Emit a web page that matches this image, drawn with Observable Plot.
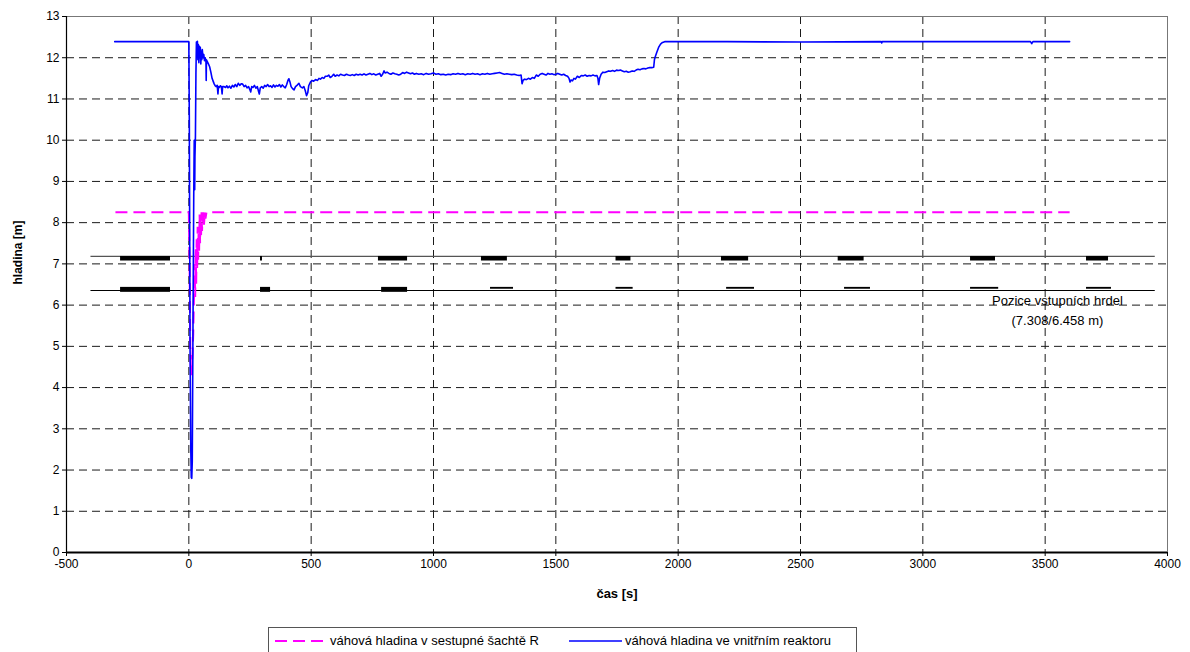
<!DOCTYPE html>
<html><head><meta charset="utf-8">
<script src="https://cdn.jsdelivr.net/npm/d3@7"></script>
<script src="https://cdn.jsdelivr.net/npm/@observablehq/plot@0.6"></script>
<style>
body{margin:0;background:#fff;font-family:"Liberation Sans",Arial,sans-serif;}
#wrap{position:relative;width:1190px;height:652px;overflow:hidden;background:#fff;}
#chart svg{display:block;}
#legend{position:absolute;left:268px;top:627px;width:589px;height:27px;border:1px solid #555;box-sizing:border-box;font-size:13px;color:#000;}
.item{position:absolute;top:0;height:25px;display:flex;align-items:center;white-space:nowrap;}
</style></head><body><div id="wrap"><div id="chart"></div><div id="legend"></div></div>
<script>
// ---- data ----
const seriesNames = ["váhová hladina v sestupné šachtě R", "váhová hladina ve vnitřním reaktoru"];
const xTicks = [-500, 0, 500, 1000, 1500, 2000, 2500, 3000, 3500, 4000];
const yTicks = [0, 1, 2, 3, 4, 5, 6, 7, 8, 9, 10, 11, 12, 13];

// downcomer (shaft R) level
const timeShaft = [-300, 0, 3, 6, 9, 12, 15, 18, 21, 24, 26, 28, 30, 32, 34, 36, 38, 40, 42, 44, 46, 48, 50, 52, 54, 56, 58, 60, 62, 65, 68, 72, 3600];
const levelShaft = [8.25, 8.25, 7.0, 5.0, 4.3, 4.5, 4.8, 5.3, 6.2, 7.0, 6.2, 7.4, 6.5, 7.6, 6.9, 7.9, 7.1, 7.8, 7.3, 8.2, 7.5, 8.15, 7.7, 8.25, 7.8, 8.25, 8.0, 8.25, 7.95, 8.25, 8.1, 8.25, 8.25];

// inner reactor level
const timeReactor = [-303, 0, 2, 5, 8, 10, 12, 14, 17, 20, 22, 23, 24, 25, 27, 29, 31, 33, 35, 37, 39, 41, 43, 45, 47, 49, 51, 53, 55, 58, 61, 64, 67, 70, 71, 72, 76, 80, 85, 90, 95, 100, 104, 108, 112, 116, 119, 121, 125, 129, 133, 136, 138, 143,
 150, 155, 160, 166, 172, 178, 184, 190, 196, 202, 208, 214, 220, 226, 232, 238, 244, 250, 253, 257, 262, 268, 274, 280, 285, 288, 292, 298, 304, 310, 316, 322, 328, 334, 340, 346, 352, 358, 364, 370, 376, 382, 388, 394, 400, 405, 409, 413, 418, 424, 430, 436, 442, 450, 456, 464, 470, 476, 481, 486, 490, 497,
 503, 510, 518, 526, 532, 538, 545, 552, 558, 565, 572, 578, 585, 592, 598, 606, 613, 620, 628, 636, 644, 652, 660, 668, 676, 684, 692, 700, 708, 716, 724, 732, 740, 748, 756, 764, 772, 780, 786, 792, 798, 802, 810, 818, 826, 834, 842, 850, 858, 866, 874, 882, 890, 898, 906, 914, 922, 930, 940, 950, 960, 970, 980, 990,
 1000, 1010, 1020, 1030, 1040, 1050, 1060, 1070, 1080, 1090, 1100, 1110, 1120, 1130, 1140, 1150, 1160, 1170, 1180, 1190, 1200, 1210, 1220, 1230, 1240, 1250, 1260, 1270, 1280, 1290, 1300, 1310, 1320, 1330, 1340, 1350, 1358, 1362, 1366, 1372, 1380, 1388, 1396, 1404, 1412, 1420, 1428, 1436, 1444, 1452, 1460, 1468, 1476, 1484, 1492,
 1500, 1508, 1516, 1524, 1532, 1540, 1548, 1554, 1558, 1562, 1568, 1574, 1580, 1588, 1596, 1604, 1612, 1620, 1628, 1636, 1644, 1652, 1660, 1668, 1672, 1675, 1679, 1685, 1692, 1700, 1708, 1716, 1724, 1732, 1740, 1748, 1756, 1764, 1772, 1780, 1788, 1796, 1804, 1812, 1820, 1828, 1836, 1844, 1852, 1860, 1868, 1876, 1884, 1892, 1900,
 1903, 1906, 1912, 1920, 1928, 1936, 1945, 2200, 2500, 2830, 2832, 2834, 3100, 3440, 3445, 3450, 3600];
const levelReactor = [12.39, 12.39, 10.5, 5.0, 2.5, 1.82, 1.8, 2.2, 5.5, 8.6, 10.0, 10.0, 8.8, 9.6, 10.1, 11.6, 12.38, 12.05, 12.4, 11.95, 12.32, 11.88, 12.28, 12.0, 12.25, 11.85, 12.15, 11.95, 12.2, 12.0, 12.08, 11.93, 12.0, 11.9, 11.45, 11.95, 11.9, 11.85, 11.78, 11.65, 11.5, 11.42, 11.36, 11.32, 11.3, 11.33, 11.12, 11.3, 11.28, 11.32, 11.3, 11.12, 11.3, 11.3,
 11.28, 11.32, 11.27, 11.31, 11.26, 11.33, 11.29, 11.35, 11.3, 11.38, 11.33, 11.37, 11.36, 11.3, 11.33, 11.27, 11.3, 11.22, 11.17, 11.3, 11.28, 11.33, 11.26, 11.3, 11.18, 11.12, 11.27, 11.3, 11.26, 11.33, 11.3, 11.35, 11.3, 11.32, 11.28, 11.34, 11.29, 11.33, 11.31, 11.35, 11.29, 11.34, 11.3, 11.27, 11.35, 11.45, 11.49, 11.42, 11.3, 11.25, 11.22, 11.3, 11.33, 11.38, 11.3, 11.27, 11.3, 11.2, 11.08, 11.15, 11.32, 11.41,
 11.45, 11.43, 11.47, 11.45, 11.5, 11.48, 11.52, 11.5, 11.55, 11.55, 11.58, 11.52, 11.55, 11.6, 11.55, 11.58, 11.56, 11.6, 11.58, 11.57, 11.6, 11.58, 11.57, 11.59, 11.57, 11.6, 11.58, 11.6, 11.58, 11.61, 11.58, 11.6, 11.62, 11.59, 11.61, 11.58, 11.6, 11.62, 11.55, 11.6, 11.68, 11.63, 11.65, 11.62, 11.6, 11.63, 11.61, 11.6, 11.58, 11.6, 11.64, 11.62, 11.65, 11.63, 11.61, 11.63, 11.6, 11.62, 11.6, 11.61, 11.59, 11.62, 11.6, 11.61,
 11.63, 11.6, 11.61, 11.59, 11.6, 11.58, 11.6, 11.59, 11.61, 11.6, 11.62, 11.6, 11.61, 11.59, 11.61, 11.6, 11.62, 11.6, 11.61, 11.59, 11.61, 11.6, 11.62, 11.6, 11.61, 11.62, 11.63, 11.64, 11.62, 11.6, 11.61, 11.6, 11.59, 11.6, 11.58, 11.57, 11.58, 11.37, 11.45, 11.48, 11.47, 11.5, 11.48, 11.52, 11.5, 11.58, 11.55, 11.6, 11.62, 11.6, 11.58, 11.62, 11.6, 11.61, 11.59,
 11.6, 11.62, 11.6, 11.58, 11.6, 11.57, 11.55, 11.5, 11.41, 11.46, 11.44, 11.5, 11.48, 11.55, 11.52, 11.57, 11.56, 11.58, 11.55, 11.57, 11.56, 11.58, 11.56, 11.57, 11.5, 11.35, 11.5, 11.6, 11.65, 11.64, 11.66, 11.68, 11.67, 11.69, 11.67, 11.7, 11.69, 11.7, 11.68, 11.66, 11.67, 11.65, 11.66, 11.68, 11.67, 11.7, 11.72, 11.71, 11.73, 11.74, 11.73, 11.75, 11.76, 11.76, 11.77,
 11.95, 12.02, 12.12, 12.25, 12.33, 12.37, 12.39, 12.39, 12.38, 12.39, 12.36, 12.39, 12.39, 12.39, 12.34, 12.39, 12.39];

// inlet nozzle positions (drawn levels and horizontal extents)
const inletLevels = [7.18, 6.355];
const inletLineFrom = -400, inletLineTo = 3950;
const inletTopStart = [-279, 293, 775, 1196, 1746, 2177, 2654, 3195, 3669];
const inletTopEnd   = [-75, 301, 894, 1302, 1807, 2288, 2760, 3297, 3759];
const inletTopLow   = [7.07, 7.07, 7.07, 7.07, 7.07, 7.07, 7.07, 7.07, 7.07];
const inletBotStart = [-279, 293, 788, 1233, 1746, 2198, 2680, 3195, 3669];
const inletBotEnd   = [-75, 334, 894, 1327, 1816, 2312, 2786, 3310, 3771];
const inletBotLow   = [6.31, 6.31, 6.31, 6.385, 6.385, 6.385, 6.385, 6.385, 6.385];
const inletBotHigh  = [6.43, 6.43, 6.43, 6.43, 6.43, 6.43, 6.43, 6.43, 6.43];
const annotationLines = ["Pozice vstupních hrdel", "(7.308/6.458 m)"];

// ---- tables ----
const shaft = timeShaft.map((t, i) => ({t, h: levelShaft[i]}));
const reactor = timeReactor.map((t, i) => ({t, h: levelReactor[i]}));
const topBars = inletTopStart.map((s, i) => ({s, e: inletTopEnd[i], lo: inletTopLow[i], hi: inletLevels[0]}));
const botBars = inletBotStart.map((s, i) => ({s, e: inletBotEnd[i], lo: inletBotLow[i], hi: inletBotHigh[i]}));
const fmt = d => String(d);

const chart = Plot.plot({
  width: 1190, height: 622,
  marginLeft: 66, marginRight: 23, marginTop: 16, marginBottom: 70,
  style: {fontFamily: "'Liberation Sans', Arial, sans-serif", fontSize: "12px", background: "#fff", color: "#000", overflow: "visible"},
  x: {domain: [-500, 4000]},
  y: {domain: [0, 13]},
  marks: [
    Plot.gridY(yTicks.filter(v => v > 0 && v < 13), {stroke: "#1a1a1a", strokeOpacity: 1, strokeDasharray: "8,5"}),
    Plot.gridX(xTicks.filter(v => v > -500 && v < 4000), {stroke: "#1a1a1a", strokeOpacity: 1, strokeDasharray: "8,5"}),
    Plot.frame({stroke: "#777"}),
    Plot.ruleY([inletLevels[0]], {x1: inletLineFrom, x2: inletLineTo, stroke: "#555", strokeWidth: 1.2}),
    Plot.ruleY([inletLevels[1]], {x1: inletLineFrom, x2: inletLineTo, stroke: "#000", strokeWidth: 1.2}),
    Plot.rect(topBars, {x1: "s", x2: "e", y1: "lo", y2: "hi", fill: "#000"}),
    Plot.rect(botBars, {x1: "s", x2: "e", y1: "lo", y2: "hi", fill: "#000"}),
    Plot.line(shaft, {x: "t", y: "h", stroke: "#ff00ff", strokeWidth: 2, strokeDasharray: "12,6", strokeLinecap: "butt", strokeLinejoin: "miter"}),
    Plot.line(reactor, {x: "t", y: "h", stroke: "#0000ff", strokeWidth: 1.6}),
    Plot.text([annotationLines[0]], {text: d => d, x: 3550, y: 6.11, fontSize: 13}),
    Plot.text([annotationLines[1]], {text: d => d, x: 3550, y: 5.63, fontSize: 13}),
    Plot.ruleX([-500], {stroke: "#000", strokeWidth: 1.2}),
    Plot.ruleY([0], {stroke: "#000", strokeWidth: 2}),
    Plot.axisY(yTicks, {tickSize: 4, tickPadding: 3, fontSize: 12, tickFormat: fmt, label: null}),
    Plot.axisX(xTicks, {tickSize: 4, tickPadding: 3, fontSize: 12, tickFormat: fmt, label: null}),
    Plot.text(["čas [s]"], {text: d => d, frameAnchor: "bottom", dy: 45, fontWeight: "bold", fontSize: 13}),
    Plot.text(["hladina [m]"], {text: d => d, frameAnchor: "left", dx: -48, rotate: -90, fontWeight: "bold", fontSize: 12})
  ]
});
document.getElementById("chart").appendChild(chart);

// legend
const legend = document.getElementById("legend");
legend.innerHTML =
  `<div class="item" style="left:6px"><svg width="50" height="6"><line x1="0" y1="3" x2="48" y2="3" stroke="#ff00ff" stroke-width="2.2" stroke-dasharray="12,6"/></svg></div>` +
  `<div class="item" style="left:61px">${seriesNames[0]}</div>` +
  `<div class="item" style="left:300px"><svg width="54" height="6"><line x1="0" y1="3" x2="53" y2="3" stroke="#0000ff" stroke-width="1.6"/></svg></div>` +
  `<div class="item" style="left:356px">${seriesNames[1]}</div>`;
</script></body></html>
